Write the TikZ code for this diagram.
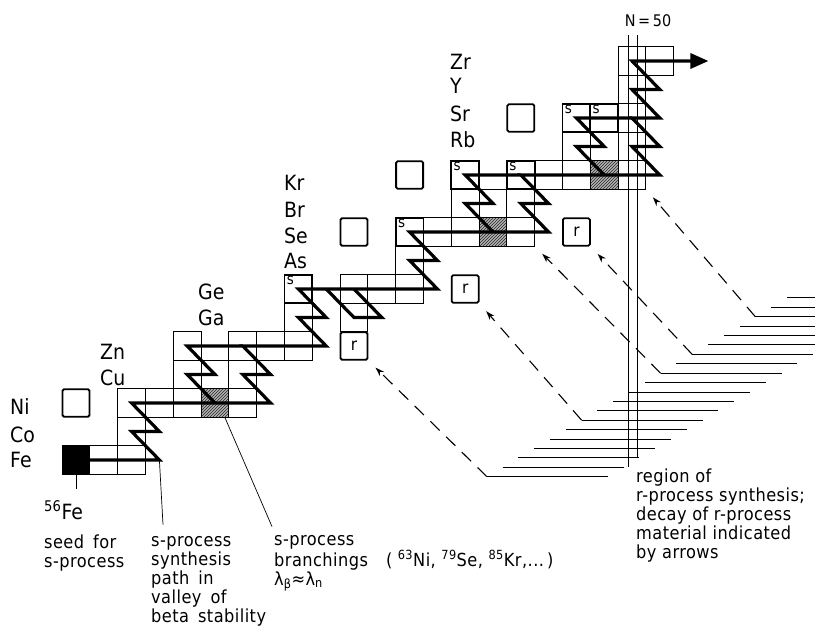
\documentclass[tikz,border=0pt]{standalone}
\usepackage{fontspec}
\setmainfont{DejaVu Sans}[FakeStretch=0.9]
\newfontfamily\capfamily{DejaVu Sans}[FakeStretch=0.9, LetterSpace=2.5]
\usetikzlibrary{arrows.meta,patterns,positioning}

\newcommand{\elfont}{\fontsize{21}{21}\selectfont}
\newcommand{\capfont}{\capfamily\fontsize{18}{18.8}\selectfont}
\newcommand{\boxfont}{\fontsize{17}{17}\selectfont}

\tikzset{
  every node/.append style = {inner sep=0pt},
  % --- nuclide chart ---------------------------------------------------------
  nucell/.style    = {draw, line width=1pt, minimum width=27.8pt,
                      minimum height=28.5pt},
  hatchcell/.style = {nucell, preaction={fill=black!30},
                      pattern=north east lines, pattern color=black!85},
  seedcell/.style  = {nucell, fill=black},
  scell/.style     = {nucell, line width=1.7pt},
  isobox/.style    = {draw, line width=1.8pt, rounded corners=1.5pt,
                      minimum width=27pt, minimum height=27.5pt, font=\boxfont},
  stag/.style      = {font=\fontsize{15}{15}\selectfont, anchor=north west},
  % --- s-process path --------------------------------------------------------
  spath/.style     = {line width=3.2pt, line join=miter},
  % --- r-process region ------------------------------------------------------
  rline/.style     = {line width=1pt},
  decay/.style     = {line width=1.1pt, dash pattern=on 13pt off 9pt,
                      -{Stealth[length=9pt,width=6pt]}, shorten >=10pt},
  % --- thin lines and labels -------------------------------------------------
  leader/.style    = {line width=0.7pt},
  nline/.style     = {line width=0.6pt},
  elem/.style      = {font=\elfont, anchor=west},
  caption/.style   = {font=\capfont, align=left, anchor=base west},
}

\begin{document}
\begin{tikzpicture}[x=1pt, y=1pt]
\useasboundingbox (0,0) rectangle (816,627);

% ================================ N = 50 ====================================
\node[font=\fontsize{16}{16}\selectfont] (n50) at (648,606) {N\,=\,50};
\draw[nline] (628,592) -- (628,160);
\draw[nline] (637,592) -- (637,169);

% ====================== r-process region (staircase) ========================
\foreach \k in {0,...,19}{
  \pgfmathsetmacro{\xl}{787-15.8*\k}
  \pgfmathsetmacro{\xr}{min(815,\xl+121)}
  \pgfmathsetmacro{\yy}{329-9.4*\k}
  \draw[rline] (\xl,\yy) coordinate (r\k) -- (\xr,\yy);
}

% ======================= nuclide chart, in (N,Z) ============================
\begin{scope}[x=27.8pt, y=28.5pt, shift={(-758pt,-574pt)}]

\foreach \n/\z in {31/26,32/26,32/27,32/28,33/28,34/28,36/28,
                   34/29,35/29,36/29,34/30,36/30,37/30,38/30,38/31,40/31,
                   40/32,41/32,42/32,42/33,43/34,44/34,46/34,
                   44/35,45/35,46/35,47/36,48/36,50/36,48/37,49/37,50/37,
                   50/38,50/39,50/40,51/40}
  \node[nucell] (c\n-\z) at (\n,\z) {};

% branching points
\node[hatchcell] (ni63) at (35,28) {};
\node[hatchcell] (se79) at (45,34) {};
\node[hatchcell] (kr85) at (49,36) {};

% s-only nuclei
\foreach \n/\z/\nm in {38/32/ge70,42/34/se76,44/36/kr80,46/36/kr82,
                       48/38/sr86,49/38/sr87}
  \node[scell] (\nm) at (\n,\z) {};

% p-only and r-only nuclei
\foreach \n/\z/\nm in {30/28/ni58,40/34/se74,42/36/kr78,46/38/sr84}
  \node[isobox] (\nm) at (\n,\z) {};
\foreach \n/\z/\nm in {40/30/zn70,44/32/ge76,48/34/se82}
  \node[isobox] (\nm) at (\n,\z) {r};

% seed
\node[seedcell] (fe56) at (30,26) {};
\coordinate (fetip) at (33,26);

% the s-process path
\draw[spath, -{Triangle[length=18pt,width=15pt]}]
  (30,26) -- (33,26) -- (32,27) -- (33,27) -- (32,28) -- (37,28)
  -- (36,29) -- (37,29) -- (36,30) -- (39,30) -- (38,31) -- (39,31)
  -- (38,32) -- (43,32) -- (42,33) -- (43,33) -- (42,34) -- (47,34)
  -- (46,35) -- (47,35) -- (46,36) -- (51,36) -- (50,37) -- (51,37)
  -- (50,38) -- (51,38) -- (50,39) -- (51,39) -- (50,40) -- (52.75,40);
\draw[spath] (35,28) -- (34,29) -- (35,29) -- (34,30) -- (36,30);
\draw[spath] (39,32) -- (40,31) -- (41,31) -- (40,32);
\draw[spath] (45,34) -- (44,35) -- (45,35) -- (44,36) -- (46,36);
\draw[spath] (49,36) -- (48,37) -- (49,37) -- (48,38) -- (50,38);

\foreach \nm in {ge70,se76,kr80,kr82,sr86,sr87}
  \node[stag] (\nm s) at ([shift={(3pt,-2pt)}]\nm.north west) {s};

\end{scope}

% ============================ element labels ================================
\node[elem] (lfe) at (10,167) {Fe};
\node[elem] (lco) at (10,192) {Co};
\node[elem] (lni) at (10,220) {Ni};
\node[elem] (lcu) at (100,249) {Cu};
\node[elem] (lzn) at (100,275) {Zn};
\node[elem] (lga) at (198,309) {Ga};
\node[elem] (lge) at (198,335) {Ge};
\node[elem] (las) at (284,366) {As};
\node[elem] (lse) at (284,391) {Se};
\node[elem] (lbr) at (284,417) {Br};
\node[elem] (lkr) at (284,444) {Kr};
\node[elem] (lrb) at (450,487) {Rb};
\node[elem] (lsr) at (450,513) {Sr};
\node[elem] (ly)  at (450,541) {Y};
\node[elem] (lzr) at (450,565) {Zr};

% ============================== captions ====================================
% (base = baseline of the last line)
\node[elem, anchor=base west] (fe56lbl) at (44,108) {\textsuperscript{56}Fe};
\node[caption] (seedlbl) at (44,60) {seed\enspace for\\s-process};
\node[caption] (pathlbl) at (151,5)
     {s-process\\synthesis\\path\enspace in\\valley\enspace of\\beta\enspace stability};
\node[caption] (branchlbl) at (274,42)
     {s-process\\branchings\quad( \textsuperscript{63}Ni, \textsuperscript{79}Se,
      \textsuperscript{85}Kr,...\,)\\λ\textsubscript{β}≈λ\textsubscript{n}};
\node[caption] (rlbl) at (636,69)
     {region of\\r-process synthesis;\\decay of r-process\\material indicated\\by arrows};

\draw[leader] (fe56.south) -- ++(0,-14);
\draw[leader] (fetip) -- ([shift={(12,12)}]pathlbl.north west);
\draw[leader] ([xshift=10pt]ni63.south) -- ([shift={(-2,9)}]branchlbl.north west);

% ======================== r-process decay arrows ============================
\draw[decay] (r2)  -- (c50-36.south east);
\draw[decay] (r6)  -- (se82.south east);
\draw[decay] (r8)  -- (c46-34.south east);
\draw[decay] (r13) -- (ge76.south east);
\draw[decay] (r19) -- (zn70.south east);

\end{tikzpicture}
\end{document}
